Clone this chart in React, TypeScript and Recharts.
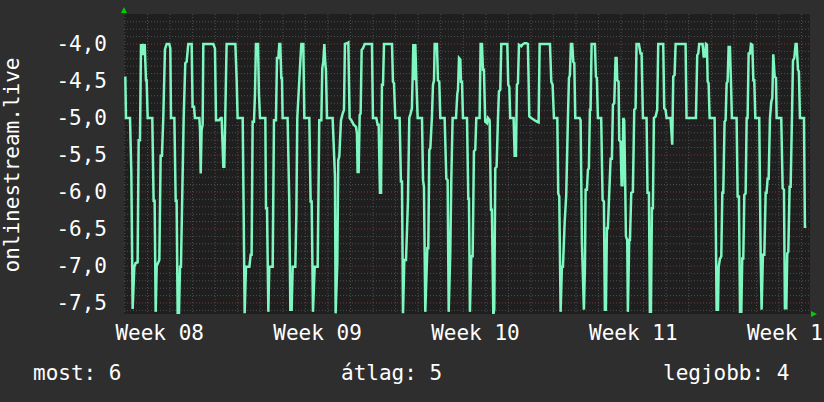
import React from "react";
import { LineChart, Line, XAxis, YAxis, CartesianGrid } from "recharts";

// samples: [hours since start, value]
const week08Points: [number, number][] = [
  [1.4, -4.44], [2.1, -5.0], [6.4, -5.0], [7.8, -5.74], [9.2, -7.58], [11.0, -7.01], [12.4, -6.96], [14.5, -6.95],
  [15.6, -5.3], [17.0, -5.3], [18.1, -4.0], [19.2, -4.15], [20.2, -4.0], [21.3, -4.15], [22.0, -4.0], [23.4, -4.49],
  [24.1, -4.49], [25.2, -5.0], [30.1, -5.0], [31.5, -6.12], [32.6, -6.12], [33.7, -7.62], [34.8, -7.0], [37.6, -6.92],
  [39.0, -5.51], [40.4, -5.51], [41.8, -5.0], [43.6, -4.07], [45.4, -4.0], [48.2, -4.0], [49.3, -4.06], [50.0, -5.0],
  [53.6, -5.0], [55.0, -6.12], [56.0, -6.12], [57.1, -7.64], [58.5, -7.64], [59.6, -7.01], [60.6, -7.01], [63.5, -5.0],
  [65.2, -4.26], [66.7, -4.24], [68.4, -4.0], [72.0, -4.0], [73.0, -4.85], [74.5, -4.85], [75.5, -5.0], [80.2, -5.0],
  [80.9, -5.16], [81.6, -5.75], [82.6, -5.16], [83.7, -5.09], [84.4, -4.0], [95.0, -4.0], [96.8, -4.06], [97.9, -5.03],
  [101.1, -5.03], [102.9, -5.0], [103.9, -5.0], [105.7, -5.66], [106.7, -5.66], [107.8, -4.94], [109.2, -4.0],
  [118.5, -4.0], [119.9, -4.49],
];

const week09Points: [number, number][] = [
  [120.9, -5.0], [126.3, -5.0], [127.3, -6.24], [128.4, -7.64], [129.8, -7.01], [133.4, -7.01], [134.8, -6.85],
  [135.8, -6.85], [136.9, -5.05], [138.3, -5.05], [139.4, -4.67], [140.4, -4.0], [142.6, -4.0], [143.6, -4.67],
  [144.7, -5.0], [150.4, -5.0], [151.1, -6.22], [152.2, -6.22], [153.6, -7.62], [154.6, -7.01], [158.2, -7.01],
  [159.6, -5.03], [161.7, -5.03], [162.8, -4.19], [164.2, -4.19], [165.3, -4.0], [166.3, -4.0], [167.4, -4.46],
  [168.1, -4.46], [168.8, -5.0], [174.1, -5.0], [175.9, -6.15], [177.0, -7.59], [178.4, -7.59], [179.5, -7.01],
  [182.3, -7.01], [183.4, -6.31], [184.4, -5.0], [187.3, -4.31], [188.7, -4.0], [190.8, -4.0], [191.9, -5.0],
  [197.2, -5.0], [198.6, -6.13], [199.7, -6.13], [201.1, -7.62], [202.9, -7.01], [206.1, -7.01], [207.8, -5.03],
  [210.0, -5.03], [211.0, -4.33], [212.1, -4.24], [213.2, -4.0], [214.2, -4.26], [214.9, -4.35], [216.0, -5.0],
  [222.0, -5.0], [224.5, -5.79], [225.2, -7.64], [227.0, -6.96], [228.0, -5.57], [229.1, -5.52], [230.9, -5.03],
  [232.7, -4.94], [234.1, -4.89], [235.1, -4.0], [237.3, -3.99], [238.7, -3.98], [240.1, -5.0], [241.9, -5.03],
];

const week10Points: [number, number][] = [
  [244.4, -5.09], [246.9, -5.12], [247.9, -5.21], [248.6, -5.73], [249.7, -5.73], [250.8, -4.96], [251.8, -4.94],
  [252.9, -4.08], [254.3, -4.06], [256.1, -4.0], [263.9, -4.0], [264.9, -5.0], [268.5, -5.0], [269.9, -5.09],
  [271.0, -5.09], [272.4, -6.01], [273.5, -6.01], [274.5, -4.55], [275.6, -4.55], [276.7, -4.0], [285.2, -4.0],
  [286.2, -4.51], [287.3, -4.53], [288.7, -5.0], [293.3, -5.0], [294.7, -5.86], [295.8, -5.86], [296.9, -7.64],
  [298.3, -6.92], [300.1, -6.92], [302.2, -6.11], [303.6, -5.0], [305.0, -4.94], [306.4, -4.87], [307.9, -4.0],
  [308.9, -4.49], [310.0, -4.0], [311.1, -4.49], [312.5, -5.0], [317.1, -5.0], [318.2, -5.84], [319.2, -5.93],
  [320.6, -7.62], [322.8, -6.76], [323.8, -6.76], [324.9, -5.43], [326.0, -5.41], [327.7, -4.98], [328.8, -4.55],
  [329.9, -4.49], [330.6, -4.0], [333.0, -4.0], [334.1, -4.49], [335.5, -4.51], [336.6, -5.0], [341.2, -5.0],
  [343.0, -5.82], [344.4, -5.84], [345.5, -7.62], [347.2, -6.83], [348.3, -5.84], [349.7, -5.0], [353.3, -5.0],
  [354.7, -4.67], [355.4, -4.62], [356.5, -4.19], [357.9, -4.21], [358.6, -4.51], [359.7, -4.51], [360.7, -5.0],
  [365.0, -5.0], [366.4, -6.09],
];

const week11Points: [number, number][] = [
  [367.1, -6.09], [368.1, -7.62], [369.5, -6.87], [371.0, -6.87], [372.4, -5.45], [373.8, -5.43], [374.9, -5.0],
  [378.4, -5.0], [379.5, -4.0], [380.9, -4.0], [382.0, -4.35], [383.0, -4.35], [384.4, -5.05], [386.2, -5.07],
  [387.3, -5.0], [389.1, -5.03], [390.5, -6.24], [391.5, -6.24], [393.0, -7.66], [394.0, -7.59], [395.1, -5.68],
  [396.5, -5.66], [397.9, -5.03], [399.0, -4.64], [400.4, -4.62], [401.5, -4.0], [407.9, -4.0], [408.9, -4.55],
  [410.0, -4.58], [411.0, -5.0], [414.6, -5.0], [415.7, -5.51], [417.1, -5.51], [418.1, -4.55], [419.2, -4.53],
  [420.3, -4.01], [422.8, -4.03], [423.8, -4.01], [426.3, -3.99], [428.4, -3.99], [429.8, -4.0], [431.3, -4.98],
  [433.4, -5.0], [436.9, -5.03], [439.4, -5.05], [441.2, -5.06], [442.3, -4.0], [453.3, -4.0], [454.7, -4.51],
  [456.1, -4.55], [457.5, -5.0], [461.1, -5.0], [462.1, -6.02], [463.2, -6.06], [464.6, -7.62], [466.0, -7.01],
  [467.1, -7.01], [468.9, -6.42], [470.6, -6.04], [472.4, -5.0], [473.5, -4.46], [474.5, -4.42], [475.6, -4.0],
  [477.0, -4.0], [478.1, -4.24], [479.2, -4.26], [480.2, -5.0], [484.8, -5.0], [485.9, -5.03], [487.3, -6.69],
  [489.4, -7.59], [490.5, -7.01], [491.2, -5.97],
];

const week12Points: [number, number][] = [
  [492.6, -5.97], [493.7, -5.7], [494.7, -5.68], [495.8, -4.89], [496.5, -4.89], [497.6, -4.0], [501.1, -4.0],
  [502.2, -4.44], [503.2, -4.46], [504.3, -5.0], [507.8, -5.0], [509.3, -6.11], [510.7, -6.13], [511.7, -7.59],
  [512.8, -7.59], [513.9, -6.49], [514.9, -6.49], [516.0, -6.13], [517.8, -5.55], [519.2, -5.55], [520.3, -4.82],
  [521.7, -4.8], [523.1, -4.19], [524.2, -4.19], [524.9, -4.49], [526.3, -4.51], [527.0, -5.3], [528.4, -5.32],
  [529.5, -5.91], [530.5, -5.91], [531.3, -5.0], [532.3, -5.03], [533.4, -5.93], [534.1, -6.6], [535.5, -6.65],
  [536.2, -7.62], [537.6, -6.65], [538.4, -6.65], [539.8, -6.01], [541.5, -6.0], [543.0, -4.89], [544.4, -4.87],
  [545.4, -4.0], [547.9, -4.0], [549.7, -4.13], [550.8, -4.13], [552.2, -5.0], [556.1, -5.0], [557.1, -6.01],
  [558.6, -6.01], [559.6, -7.62], [560.7, -7.62], [561.8, -6.22], [562.8, -6.22], [563.9, -5.0], [565.7, -4.98],
  [567.4, -4.89], [568.5, -4.0], [573.8, -4.0], [574.9, -4.87], [576.3, -4.89], [577.4, -5.0], [581.6, -5.0],
  [583.4, -5.36], [584.5, -4.44], [585.9, -4.42], [587.0, -4.0], [597.6, -4.0], [598.6, -5.0], [608.6, -5.0],
  [610.0, -4.15], [611.1, -4.13], [612.1, -4.0],
];

const week13Points: [number, number][] = [
  [615.7, -4.0], [616.8, -4.17], [618.2, -4.17], [619.3, -4.0], [620.3, -4.01], [621.1, -4.51], [622.1, -4.53],
  [623.2, -5.0], [628.5, -5.0], [629.6, -6.24], [630.6, -7.59], [632.1, -7.59], [632.8, -7.01], [634.2, -6.9],
  [635.6, -6.87], [636.7, -6.01], [637.7, -6.01], [639.1, -5.05], [640.2, -5.03], [641.3, -4.53], [642.3, -4.51],
  [643.4, -4.04], [644.8, -4.04], [645.9, -4.51], [646.9, -5.0], [651.9, -5.0], [653.0, -6.06], [654.4, -6.06],
  [655.5, -7.62], [656.9, -7.62], [657.9, -6.9], [659.0, -6.9], [660.1, -6.04], [661.5, -6.02], [662.6, -5.0],
  [663.6, -5.0], [664.7, -4.13], [666.1, -4.13], [667.2, -4.0], [668.6, -4.01], [669.7, -4.49], [670.7, -4.49],
  [671.8, -5.0], [676.0, -5.0], [677.5, -6.87], [678.5, -7.59], [679.9, -6.85], [681.4, -6.85], [682.8, -6.01],
  [683.8, -6.01], [684.9, -5.82], [686.0, -5.82], [687.4, -5.0], [688.8, -4.78], [689.9, -4.73], [690.9, -4.14],
  [692.4, -4.44], [693.8, -4.46], [694.5, -5.0], [699.4, -5.0], [700.9, -5.95], [702.3, -5.97], [703.3, -7.57],
  [704.8, -7.57], [705.8, -6.83], [706.9, -6.81], [708.3, -5.93], [709.4, -5.93], [710.8, -5.0], [711.9, -4.22],
  [713.3, -4.19], [714.7, -4.0], [715.8, -4.0], [717.2, -4.35], [718.2, -4.37], [719.3, -5.0], [723.6, -5.0],
  [724.6, -6.47], [726.1, -6.47],
];

const weekLabels = ["Week 08", "Week 09", "Week 10", "Week 11", "Week 12"];
const weekLabelHours = [38, 206, 374, 542, 710];
const weekStartHours = [121, 289, 457, 625];
const yTicks = [-4, -4.5, -5, -5.5, -6, -6.5, -7, -7.5];
const yMajorLines = [-4, -5, -5.5, -6, -6.5, -7, -7.5];

const data = [
  ...week08Points,
  ...week09Points,
  ...week10Points,
  ...week11Points,
  ...week12Points,
  ...week13Points,
].map(([t, v]) => ({ t, v }));

// minor grid: every 0.1 and every day
const yMinorLines: number[] = [];
for (let i = 1; i <= 40; i++) {
  const v = Math.round((-3.6 - i * 0.1) * 10) / 10;
  if (!yMajorLines.includes(v)) yMinorLines.push(v);
}
const dayLines: number[] = [];
for (let h = 1; h <= 730; h += 24) {
  if (!weekStartHours.includes(h)) dayLines.push(h);
}

const fmtY = (v: number) => v.toFixed(1).replace(".", ",");
const fmtX = (v: number) => weekLabels[weekLabelHours.indexOf(v)] ?? "";

const FONT = "'DejaVu Sans Mono', monospace";
const tickStyle = { fill: "#ffffff", fontSize: 21, fontFamily: FONT };

const App = () => {
  return (
    <div
      style={{
        position: "absolute",
        left: 0,
        top: 0,
        width: 824,
        height: 402,
        background: "#2e2e2e",
        fontFamily: FONT,
      }}
    >
      <LineChart width={824} height={402} data={data} margin={{ top: 14, right: 14, left: 0, bottom: 0 }}>
        <CartesianGrid
          fill="#1f1f1f"
          stroke="#4e4e4e"
          strokeDasharray="1 2"
          horizontalValues={yMinorLines}
          verticalValues={dayLines}
        />
        <CartesianGrid
          stroke="#7e3434"
          strokeDasharray="1 2"
          horizontalValues={yMajorLines}
          verticalValues={weekStartHours}
        />
        <XAxis
          dataKey="t"
          type="number"
          domain={[0, 730]}
          ticks={weekLabelHours}
          tickFormatter={fmtX}
          interval={0}
          height={88}
          axisLine={false}
          tickLine={false}
          tickSize={0}
          tickMargin={11}
          tick={tickStyle}
          allowDataOverflow
        />
        <YAxis
          type="number"
          domain={[-7.649, -3.595]}
          ticks={yTicks}
          tickFormatter={fmtY}
          interval={0}
          width={124}
          axisLine={false}
          tickLine={false}
          tickSize={0}
          tickMargin={17}
          tick={tickStyle}
          allowDataOverflow
        />
        <Line
          dataKey="v"
          type="linear"
          stroke="#7ff7c0"
          strokeWidth={2.5}
          dot={false}
          activeDot={false}
          isAnimationActive={false}
        />
      </LineChart>
      <svg
        width={824}
        height={402}
        style={{ position: "absolute", left: 0, top: 0, pointerEvents: "none" }}
      >
        <polygon points="121,13 127,13 124,7" fill="#00cc00" />
        <polygon points="811,311 811,317 817,314" fill="#00cc00" />
        <text
          x={19}
          y={165}
          transform="rotate(-90 19 165)"
          textAnchor="middle"
          fill="#ffffff"
          fontSize={21}
          fontFamily={FONT}
        >
          onlinestream.live
        </text>
        <text x={33} y={380} fill="#ffffff" fontSize={21} fontFamily={FONT}>
          most: 6
        </text>
        <text x={341} y={380} fill="#ffffff" fontSize={21} fontFamily={FONT}>
          átlag: 5
        </text>
        <text x={663} y={380} fill="#ffffff" fontSize={21} fontFamily={FONT}>
          legjobb: 4
        </text>
      </svg>
    </div>
  );
};

export default App;
